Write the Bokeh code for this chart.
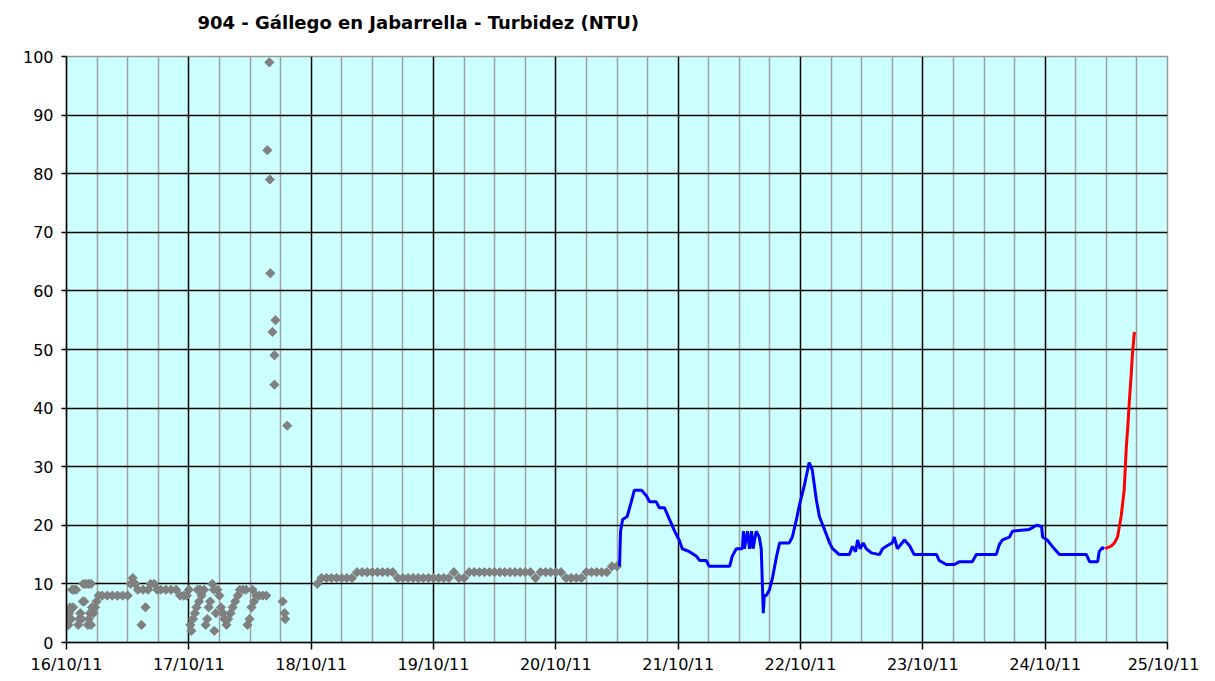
import math
from bokeh.plotting import figure
from bokeh.models import FixedTicker, Range1d
from bokeh.embed import file_html
from bokeh.resources import INLINE

# ---------------- data ----------------
title_text = "904 - Gállego en Jabarrella - Turbidez (NTU)"
day_labels = ["16/10/11", "17/10/11", "18/10/11", "19/10/11", "20/10/11",
              "21/10/11", "22/10/11", "23/10/11", "24/10/11", "25/10/11"]
y_ticks = [0, 10, 20, 30, 40, 50, 60, 70, 80, 90, 100]

# hours since 16/10/11 00:00
gray_hours = [0.0, 0.2, 0.4, 0.5, 0.7, 0.9, 1.1, 1.5, 1.9, 1.3, 2.3, 2.5, 2.7, 3.0,
              3.2, 3.5, 3.3, 3.8, 4.3, 4.8, 4.2, 4.4, 4.6, 4.8, 5.0, 5.3, 5.6, 5.9,
              6.3, 7, 8, 9, 10, 11, 12, 12.6, 13.0, 13.5, 14.0, 14.7, 15.0, 15.5,
              16.0, 16.5, 17.2, 17.8, 18.5, 19.5, 20.5, 21.5, 22.3, 23.0, 23.6,
              24.0, 24.3, 24.5, 24.8, 25.2, 25.5, 25.7, 26.2, 26.0, 26.5, 27.0,
              27.3, 27.6, 27.9, 28.2, 28.6, 28.9, 29.0, 29.3, 29.6, 30.0, 30.3,
              30.7, 31.0, 31.4, 31.7, 32.2, 32.6, 33.1, 33.6, 34.0, 34.6, 35.2,
              35.5, 35.9, 36.3, 36.5, 36.8, 37.2, 37.8, 38.5, 39.2,
              39.4, 39.8, 39.9, 40.0, 40.4, 40.8, 40.8, 41.0, 42.4, 42.8, 42.9, 43.3,
              49.2, 50, 51, 52, 53, 54, 55, 56, 57, 58, 59, 60, 61, 62, 63, 64,
              65, 66, 67, 68, 69, 70, 71, 72, 73, 74, 75, 76, 77, 78,
              79, 80, 81, 82, 83, 84, 85, 86, 87, 88, 89, 90, 91, 92,
              93, 94, 95, 96, 97, 98, 99, 100, 101, 102, 103, 104, 105, 106, 107, 108]
gray_values = [3, 4, 3, 5, 6, 4, 9, 9, 9, 6, 3, 4, 5, 4,
               7, 7, 10, 10, 10, 10, 3, 4, 5, 3, 6, 5, 6, 7,
               8, 8, 8, 8, 8, 8, 8, 10, 11, 10, 9, 3, 9, 6,
               9, 10, 10, 9, 9, 9, 9, 9, 8, 8, 8,
               9, 3, 2, 4, 5, 6, 9, 9, 7, 8, 9,
               3, 4, 6, 7, 10, 9, 2, 5, 9, 8, 6,
               5, 4, 3, 4, 5, 6, 7, 8, 9, 9, 9,
               3, 4, 6, 9, 7, 8, 8, 8, 8,
               84, 99, 79, 63, 53, 49, 44, 55, 7, 5, 4, 37,
               10, 11, 11, 11, 11, 11, 11, 11, 12, 12, 12, 12, 12, 12, 12, 12,
               11, 11, 11, 11, 11, 11, 11, 11, 11, 11, 11, 12, 11, 11,
               12, 12, 12, 12, 12, 12, 12, 12, 12, 12, 12, 12, 12, 11,
               12, 12, 12, 12, 12, 11, 11, 11, 11, 12, 12, 12, 12, 12, 13, 13]

blue_hours = [108.5, 108.7, 109.1, 110.0, 110.8, 111.4, 112.8, 113.8, 114.4, 115.7,
              116.3, 117.3, 118.3, 119.3, 120.2, 120.8, 122.2, 123.6, 124.2, 125.5,
              126.1, 130.1, 130.6, 131.4, 132.6, 132.8, 133.0, 133.6, 134.0, 134.4,
              134.7, 135.3, 135.9, 136.3, 136.7, 136.9, 137.3, 137.9, 138.5, 139.3,
              139.9, 141.8, 142.4, 143.2, 143.8, 144.8, 145.7, 146.3, 147.1, 147.7,
              148.7, 149.7, 150.3, 151.6, 153.6, 154.2, 154.8, 155.2, 155.7, 156.3,
              156.9, 157.9, 159.5, 160.1, 161.0, 162.0, 162.4, 163.0, 164.4, 165.4,
              166.3, 170.7, 171.2, 172.6, 174.2, 175.2, 177.7, 178.5, 182.4, 183.0,
              183.6, 185.0, 185.6, 188.9, 190.3, 191.3, 191.5, 192.4, 193.4, 194.8,
              200.1, 200.7, 202.3, 202.6, 203.2, 203.6]
blue_values = [13, 19, 21, 21.5, 24, 26, 26, 25, 24, 24,
               23, 23, 21, 19, 17.5, 16, 15.5, 14.7, 14, 14,
               13, 13, 14.7, 16, 16, 19, 16, 19, 16, 19,
               16, 19, 18, 16, 5, 8, 8, 9, 11, 14.7,
               17, 17, 18, 21, 23.5, 27, 30.7, 29.5, 24.4, 21.5,
               19.3, 17, 16, 15, 15, 16.4, 15.5, 17.5, 16, 17,
               16, 15.3, 15, 16, 16.5, 17, 18, 16, 17.5, 16.5,
               15, 15, 14, 13.3, 13.3, 13.8, 13.8, 15, 15, 16.7,
               17.5, 18, 19, 19.3, 20, 19.8, 18, 17.5, 16.4, 15,
               15, 13.8, 13.8, 15.5, 16.2, 16]

red_hours = [203.8, 205.0, 205.6, 206.2, 206.9, 207.5, 207.9, 208.3, 208.5, 208.9, 209.1, 209.5]
red_values = [16, 16.5, 17, 18, 21.5, 26, 33, 38, 41, 46, 49, 53]

# ---------------- figure ----------------
day_ticks = [24 * i for i in range(len(day_labels))]

p = figure(frame_width=1101, frame_height=586,
           x_range=Range1d(0, 216), y_range=Range1d(0, 100),
           output_backend="svg", toolbar_location=None,
           min_border_left=66, min_border_right=32, min_border_top=56, min_border_bottom=31,
           background_fill_color="#CCFFFF", border_fill_color="white",
           title=title_text)

p.title.align = "left"
p.title.offset = 131
p.title.standoff = 0
p.title.padding = dict(left=0, right=0, top=0, bottom=24)
p.title.text_font = "DejaVu Sans"
p.title.text_font_size = "18px"
p.title.text_font_style = "bold"
p.title.text_color = "black"

p.outline_line_color = "#999999"
p.outline_line_width = 1.5

# axes
p.xaxis.ticker = FixedTicker(ticks=day_ticks)
p.xaxis.major_label_overrides = {t: lab for t, lab in zip(day_ticks, day_labels)}
p.yaxis.ticker = FixedTicker(ticks=y_ticks)
for ax in (p.xaxis, p.yaxis):
    ax.axis_line_color = "black"
    ax.axis_line_width = 1.5
    ax.major_tick_line_color = "black"
    ax.major_tick_line_width = 1.5
    ax.major_tick_in = 0
    ax.minor_tick_line_color = None
    ax.major_label_text_font = "DejaVu Sans"
    ax.major_label_text_font_size = "16px"
    ax.major_label_text_color = "black"
p.xaxis.major_tick_out = 7
p.yaxis.major_tick_out = 5
p.xaxis.major_label_standoff = 5
p.yaxis.major_label_standoff = 8

# grids
minor6 = [h for h in range(6, 216, 6) if h % 24 != 0]
p.xgrid.ticker = FixedTicker(ticks=day_ticks[1:-1], minor_ticks=minor6)
p.xgrid.grid_line_color = "black"
p.xgrid.grid_line_width = 1.5
p.xgrid.minor_grid_line_color = "#a0a0a0"
p.xgrid.minor_grid_line_width = 1.5
p.ygrid.ticker = FixedTicker(ticks=y_ticks[1:-1])
p.ygrid.grid_line_color = "black"
p.ygrid.grid_line_width = 1.5

# data
p.scatter(gray_hours, gray_values, marker="square", size=6.5, angle=math.pi / 4,
          fill_color="#808080", line_color="#808080")
p.line(blue_hours, blue_values, line_color="#0000FF", line_width=3)
p.line(red_hours, red_values, line_color="#FF0000", line_width=3)

open("out.html", "w").write(file_html(p, INLINE))
